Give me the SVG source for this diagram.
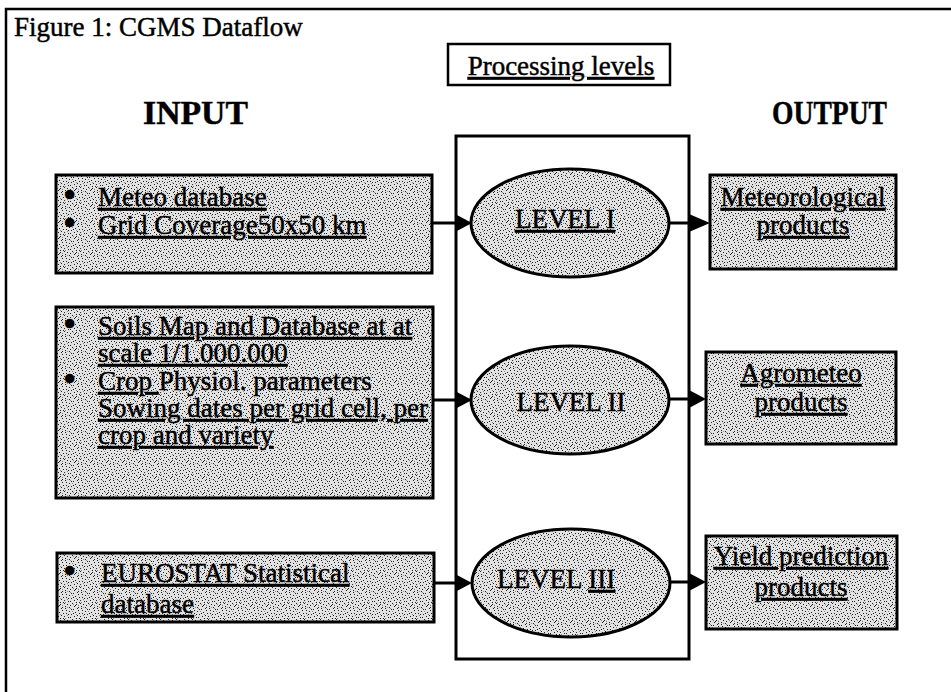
<svg xmlns="http://www.w3.org/2000/svg" width="951" height="692" viewBox="0 0 951 692">
  <style>
    text { font-family: "Liberation Serif", "Times New Roman", serif; fill: #000; stroke: #000; stroke-width: 0.45; }
    .body { font-size: 27px; }
    .dot { font-size: 38px; }
    .head { font-size: 34px; font-weight: bold; }
    .u { text-decoration: underline; }
    .box { fill: url(#stipple); stroke: #000; stroke-width: 3; }
    .oval { fill: url(#stipple); stroke: #000; stroke-width: 3; }
    .frame { fill: none; stroke: #000; stroke-width: 3; }
    .wire { fill: none; stroke: #000; stroke-width: 3; }
    .head-tip { fill: #000; }
  </style>

  <defs>
    <!-- halftone-style grey fill for the boxes and ovals -->
    <pattern id="stipple" width="16" height="16" patternUnits="userSpaceOnUse">
      <rect width="16" height="16" fill="#e2e2e2"/>
      <path fill="#222" d="M1,0h1v1h-1z M9,1h1v1h-1z M14,2h1v1h-1z M5,3h1v1h-1z M11,4h1v1h-1z M2,5h1v1h-1z M7,6h1v1h-1z M13,7h1v1h-1z M0,8h1v1h-1z M10,8h1v1h-1z M4,9h1v1h-1z M15,10h1v1h-1z M8,11h1v1h-1z M3,12h1v1h-1z M12,12h1v1h-1z M6,13h1v1h-1z M1,14h1v1h-1z M10,14h1v1h-1z M14,15h1v1h-1z M5,15h1v1h-1z M7,1h1v1h-1z M12,10h1v1h-1z M2,2h1v1h-1z M9,5h1v1h-1z M15,5h1v1h-1z M6,9h1v1h-1z M11,13h1v1h-1z M0,11h1v1h-1z M4,6h1v1h-1z M13,0h1v1h-1z"/>
      <path fill="#888" d="M3,7h1v1h-1z M8,3h1v1h-1z M12,6h1v1h-1z M1,10h1v1h-1z M9,12h1v1h-1z M14,13h1v1h-1z M6,0h1v1h-1z M3,15h1v1h-1z"/>
    </pattern>
  </defs>

  <rect width="951" height="692" fill="#ffffff"/>

  <!-- outer figure border, open on the right and bottom -->
  <path d="M6,692 V9 H951" fill="none" stroke="#000" stroke-width="2.5"/>

  <text x="14" y="36" style="font-size:27px">Figure 1: CGMS Dataflow</text>

  <g id="processing-levels">
    <rect x="448" y="44" width="222" height="41" fill="#fff" stroke="#000" stroke-width="2.5"/>
    <text x="561" y="75" class="u" text-anchor="middle" style="font-size:27px">Processing levels</text>
  </g>

  <text x="143" y="124" class="head" textLength="105" lengthAdjust="spacingAndGlyphs">INPUT</text>
  <text x="772" y="124" class="head" textLength="115" lengthAdjust="spacingAndGlyphs">OUTPUT</text>

  <!-- processing frame -->
  <g id="processing-frame">
    <rect x="456" y="136" width="233" height="523" class="frame"/>
  </g>

  <!-- connectors -->
  <g id="connectors">
    <line x1="432" y1="223" x2="458" y2="223" class="wire"/>
    <polygon points="455,214 472,223 455,232" class="head-tip"/>
    <line x1="433" y1="400" x2="458" y2="400" class="wire"/>
    <polygon points="455,391 472,400 455,409" class="head-tip"/>
    <line x1="434" y1="583" x2="458" y2="583" class="wire"/>
    <polygon points="455,574 472,583 455,592" class="head-tip"/>

    <line x1="669" y1="223" x2="692" y2="223" class="wire"/>
    <polygon points="689,214 710,223 689,232" class="head-tip"/>
    <line x1="669" y1="399" x2="692" y2="399" class="wire"/>
    <polygon points="689,390 706,399 689,408" class="head-tip"/>
    <line x1="670" y1="582" x2="692" y2="582" class="wire"/>
    <polygon points="689,573 706,582 689,591" class="head-tip"/>
  </g>

  <!-- input nodes -->
  <g id="input-meteo">
    <rect x="56" y="175" width="376" height="98" class="box"/>
    <text x="63" y="208" class="dot">•</text>
    <text x="98" y="206" class="body u">Meteo database</text>
    <text x="63" y="236" class="dot">•</text>
    <text x="98" y="234" class="body u">Grid Coverage50x50 km</text>
  </g>

  <g id="input-soils">
    <rect x="56" y="307" width="377" height="191" class="box"/>
    <text x="63" y="337" class="dot">•</text>
    <text x="98" y="335" class="body u">Soils Map and Database at at</text>
    <text x="98" y="362" class="body u">scale 1/1.000.000</text>
    <text x="63" y="392" class="dot">•</text>
    <text x="98" y="390" class="body"><tspan class="u">Crop </tspan>Physiol. parameters</text>
    <text x="98" y="417" class="body u">Sowing dates per grid cell, per</text>
    <text x="98" y="444" class="body u">crop and variety</text>
  </g>

  <g id="input-eurostat">
    <rect x="57" y="553" width="377" height="69" class="box"/>
    <text x="63" y="584" class="dot">•</text>
    <text x="101" y="582" class="body u">EUROSTAT Statistical</text>
    <text x="101" y="613" class="body u">database</text>
  </g>

  <!-- processing levels -->
  <g id="level-1">
    <ellipse cx="570" cy="223" rx="99" ry="54" class="oval"/>
    <text x="565" y="228" class="body u" text-anchor="middle">LEVEL I</text>
  </g>

  <g id="level-2">
    <ellipse cx="570" cy="400" rx="99" ry="54" class="oval"/>
    <text x="571" y="411" class="body" text-anchor="middle">LEVEL II</text>
  </g>

  <g id="level-3">
    <ellipse cx="571" cy="583" rx="99" ry="54" class="oval"/>
    <text x="497" y="588" class="body">LEVEL <tspan class="u">III</tspan></text>
  </g>

  <!-- output nodes -->
  <g id="output-meteo">
    <rect x="710" y="175" width="186" height="94" class="box"/>
    <text x="803" y="206" class="body u" text-anchor="middle">Meteorological</text>
    <text x="803" y="234" class="body u" text-anchor="middle">products</text>
  </g>

  <g id="output-agro">
    <rect x="706" y="352" width="190" height="92" class="box"/>
    <text x="801" y="382" class="body u" text-anchor="middle">Agrometeo</text>
    <text x="801" y="411" class="body u" text-anchor="middle">products</text>
  </g>

  <g id="output-yield">
    <rect x="706" y="536" width="191" height="93" class="box"/>
    <text x="801" y="565" class="body u" text-anchor="middle">Yield prediction</text>
    <text x="801" y="596" class="body u" text-anchor="middle">products</text>
  </g>
</svg>
